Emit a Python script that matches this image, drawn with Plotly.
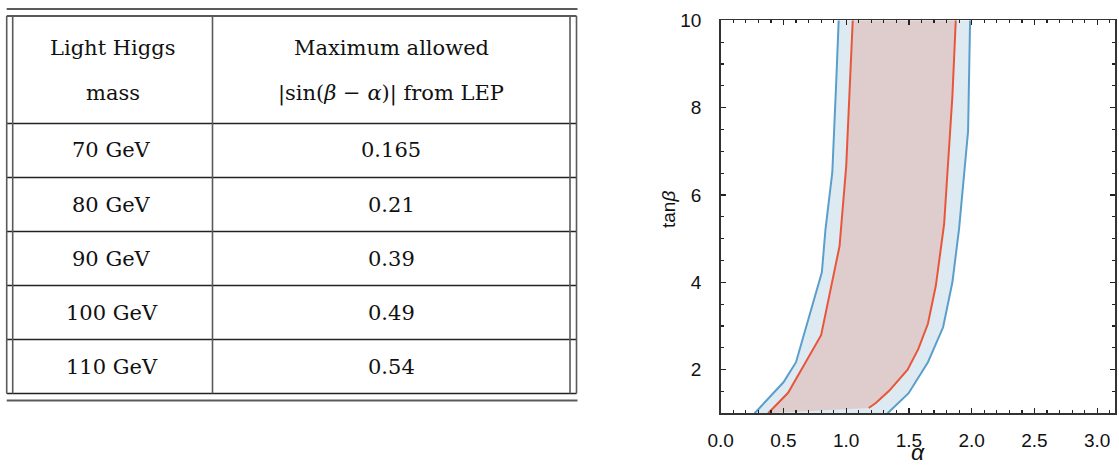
import plotly.graph_objects as go

# ---------------- data ----------------
masses_gev = [70, 80, 90, 100, 110]
max_sin = [0.165, 0.21, 0.39, 0.49, 0.54]
header_col1 = ["Light Higgs", "mass"]
header_col2 = ["Maximum allowed", "|sin(<i>β</i> − <i>α</i>)| from LEP"]

# outer (blue) allowed band
blue_left_alpha = [0.27, 0.50, 0.60, 0.806, 0.835, 0.889, 0.92, 0.94]
blue_left_tanb = [1.0, 1.71, 2.17, 4.23, 5.22, 6.51, 8.56, 10.0]
blue_right_alpha = [1.987, 1.971, 1.899, 1.846, 1.772, 1.651, 1.497, 1.330]
blue_right_tanb = [10.0, 7.46, 5.22, 4.0, 2.97, 2.17, 1.46, 1.0]

# inner (red) allowed band
red_left_alpha = [0.378, 0.537, 0.80, 0.947, 1.0, 1.045, 1.052]
red_left_tanb = [1.0, 1.47, 2.79, 4.83, 6.66, 9.47, 10.0]
red_right_alpha = [1.873, 1.846, 1.78, 1.714, 1.651, 1.574, 1.489, 1.344, 1.238, 1.18]
red_right_tanb = [10.0, 8.26, 5.33, 3.92, 3.05, 2.47, 2.0, 1.52, 1.24, 1.12]

x_ticks = [0.0, 0.5, 1.0, 1.5, 2.0, 2.5, 3.0]
y_ticks = [2, 4, 6, 8, 10]

# ---------------- layout constants ----------------
W, H = 1119, 466  # browser window == figure (page margin removed below)


def px(x):
    """window pixel x -> paper fraction"""
    return x / W


def py(y):
    """window pixel y (from top) -> paper fraction"""
    return 1 - y / H


BLUE_LINE = "#5a9ecb"
BLUE_FILL = "#deeaf2"
RED_LINE = "#e9553a"
RED_FILL = "#dfcdce"
SANS = "Liberation Sans, Arial, sans-serif"

fig = go.Figure()

fig.add_trace(go.Scatter(
    x=blue_left_alpha + blue_right_alpha,
    y=blue_left_tanb + blue_right_tanb,
    mode="none", fill="toself", fillcolor=BLUE_FILL,
    hoverinfo="skip", showlegend=False,
))
fig.add_trace(go.Scatter(
    x=red_left_alpha + red_right_alpha,
    y=red_left_tanb + red_right_tanb,
    mode="none", fill="toself", fillcolor=RED_FILL,
    hoverinfo="skip", showlegend=False,
))
for xs, ys, col in [(blue_left_alpha, blue_left_tanb, BLUE_LINE),
                    (blue_right_alpha, blue_right_tanb, BLUE_LINE),
                    (red_left_alpha, red_left_tanb, RED_LINE),
                    (red_right_alpha, red_right_tanb, RED_LINE)]:
    fig.add_trace(go.Scatter(
        x=xs, y=ys, mode="lines", line=dict(color=col, width=2),
        hoverinfo="skip", showlegend=False,
    ))

axis_common = dict(
    showgrid=False, zeroline=False, showline=True, linecolor="#333",
    linewidth=1.5, mirror="allticks", ticks="inside", ticklen=5,
    tickwidth=1.3, tickcolor="#222", automargin=False,
    tickfont=dict(family=SANS, size=19, color="#111"),
)

fig.update_xaxes(
    **axis_common,
    range=[0, 3.14159], domain=[px(720.7), px(1115)],
    tickmode="array", tickvals=x_ticks, ticktext=[f"{v:.1f}" for v in x_ticks],
    minor=dict(dtick=0.1, tick0=0, ticks="inside", ticklen=3, tickcolor="#222", tickwidth=1.2),
    ticklabelstandoff=9,
)
fig.update_yaxes(
    **axis_common,
    range=[1, 10], domain=[py(413.3), py(20.3)],
    tickmode="array", tickvals=y_ticks, ticktext=[str(v) for v in y_ticks],
    minor=dict(dtick=0.5, tick0=0, ticks="inside", ticklen=3, tickcolor="#222", tickwidth=1.2),
    ticklabelstandoff=14,
)

# ---------------- table (drawn with shapes + annotations) ----------------
shapes = []
GRAY = "#5a5a5a"
DARK = "#222"


def hline(x0, x1, y, color, width):
    shapes.append(dict(type="line", xref="paper", yref="paper",
                       x0=px(x0), x1=px(x1), y0=py(y), y1=py(y),
                       line=dict(color=color, width=width)))


def vline(x, y0, y1, color, width):
    shapes.append(dict(type="line", xref="paper", yref="paper",
                       x0=px(x), x1=px(x), y0=py(y0), y1=py(y1),
                       line=dict(color=color, width=width)))


TL, TLI, TD, TRI, TR = 6.7, 12.7, 212.5, 570, 576.5
TOP_RULE, BOX_TOP, HEAD_BOT, BOX_BOT, BOT_RULE = 9, 16, 123.5, 393.5, 400.5
ROW_H = (BOX_BOT - HEAD_BOT) / len(masses_gev)

hline(TL, TR + 1, TOP_RULE, GRAY, 2.2)
hline(TL, TR + 1, BOT_RULE, GRAY, 2.2)
hline(TL, TR, BOX_TOP, DARK, 1.3)
hline(TL, TR, HEAD_BOT, DARK, 1.3)
for i in range(1, len(masses_gev) + 1):
    hline(TL, TR, HEAD_BOT + i * ROW_H, DARK, 1.3)
for xv in (TL, TLI, TD, TRI, TR):
    vline(xv, BOX_TOP, BOX_BOT, GRAY, 1.6)

annotations = []
SERIF = dict(family="DejaVu Serif, Liberation Serif, serif", size=21, color="#111")
c1 = (TLI + TD) / 2
c2 = (TD + TRI) / 2


def text(x, y, s, font=SERIF, angle=0):
    annotations.append(dict(x=px(x), y=py(y), xref="paper", yref="paper",
                            text=s, showarrow=False, xanchor="center", yanchor="middle",
                            font=font, textangle=angle))


for k, (a, b) in enumerate(zip(header_col1, header_col2)):
    yy = 48 + k * 45
    text(c1, yy, a)
    text(c2, yy, b)

for i, (m, v) in enumerate(zip(masses_gev, max_sin)):
    yy = HEAD_BOT + (i + 0.5) * ROW_H
    text(c1 - 1, yy, f"{m} GeV")
    text(c2, yy, f"{v}")

# axis titles
text(668, 210, "tan<i>β</i>", dict(family=SANS, size=19, color="#111"), angle=-90)
text(918, 452, "<i>α</i>", dict(family=SANS, size=23, color="#111"))

fig.update_layout(
    width=W, height=H,
    margin=dict(l=0, r=0, t=0, b=0, autoexpand=False),
    paper_bgcolor="white", plot_bgcolor="white",
    shapes=shapes, annotations=annotations,
    showlegend=False,
)

fig.write_html(
    "out.html",
    config={"displayModeBar": False, "staticPlot": True},
    post_script="document.body.style.margin='0px';document.body.style.overflow='hidden';",
)
